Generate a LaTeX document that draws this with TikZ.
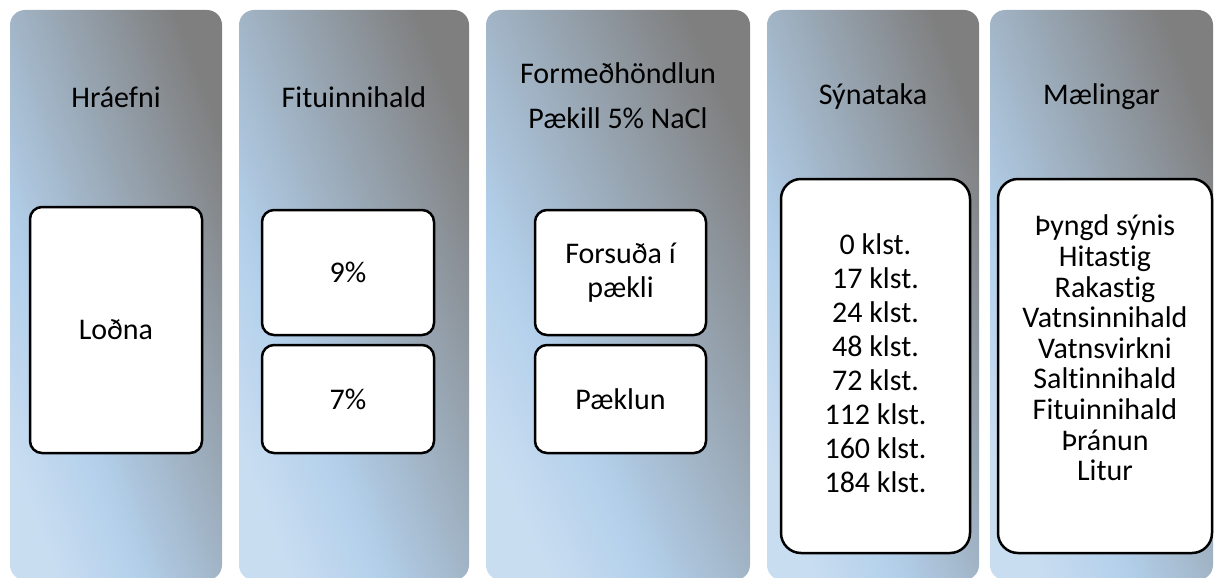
\documentclass[tikz,border=0pt]{standalone}
\usepackage{fontspec}
\setmainfont{Carlito}[Ligatures=NoCommon]
\usetikzlibrary{positioning,calc}

\definecolor{gradA}{RGB}{201,221,241}
\definecolor{gradB}{RGB}{179,208,235}
\definecolor{gradC}{RGB}{127,127,127}
\pgfdeclarehorizontalshading{colgrad}{100bp}{color(0bp)=(gradA); color(25bp)=(gradA); color(37.5bp)=(gradB); color(75bp)=(gradC); color(100bp)=(gradC)}

\begin{document}
\begin{tikzpicture}[x=1pt,y=-1pt,font=\fontsize{30pt}{34pt}\selectfont]
        \tikzstyle{col}=[shade, shading=colgrad, rounded corners=15pt, inner sep=0pt, minimum height=570pt]
        \tikzstyle{box}=[draw, fill=white, line width=2.5pt, rounded corners=12pt, inner sep=0pt, align=center]
        \tikzstyle{head}=[align=center]

        \useasboundingbox (0,0) rectangle (1215,578);

        % columns
        \node[col, shading angle=20.4, minimum width=212pt] (c1) at (116,295) {};
        \node[col, shading angle=22.0, minimum width=230pt] (c2) at (354,295) {};
        \node[col, shading angle=24.8, minimum width=264pt] (c3) at (618,295) {};
        \node[col, shading angle=20.4, minimum width=212pt] (c4) at (873,295) {};
        \node[col, shading angle=21.4, minimum width=223pt] (c5) at (1101.5,295) {};

        % headings
        \node[head] (h1) at (116,97) {Hráefni};
        \node[head] (h2) at (354,97) {Fituinnihald};
        \node[head] (h3) at (618,96) {Formeðhöndlun\\[11pt]Pækill 5\% NaCl};
        \node[head] (h4) at (873,97) {Sýnataka};
        \node[head] (h5) at (1101.5,97) {Mælingar};

        % boxes
        \node[box, minimum width=172pt, minimum height=246pt] (b1) at (116,330) {Loðna};
        \node[box, minimum width=172pt, minimum height=125pt] (b2a) at (348,272.5) {9\%};
        \node[box, minimum width=172pt, minimum height=108pt] (b2b) at (348,399) {7\%};
        \node[box, minimum width=171pt, minimum height=125pt] (b3a) at (620.5,272.5) {Forsuða í\\pækli};
        \node[box, minimum width=171pt, minimum height=108pt] (b3b) at (620.5,399) {Pæklun};
        \node[box, rounded corners=20pt, minimum width=189pt, minimum height=374pt] (b4) at (875.5,366) {};
        \node[head] (m4) at (875.5,363)
            {0 klst.\\17 klst.\\24 klst.\\48 klst.\\72 klst.\\112 klst.\\160 klst.\\184 klst.};
        \node[box, rounded corners=20pt, minimum width=214pt, minimum height=374pt] (b5) at (1105,366) {};
        \node[head, font=\fontsize{30pt}{30.6pt}\selectfont] (m5) at (1105,348)
            {Þyngd sýnis\\Hitastig\\Rakastig\\Vatnsinnihald\\Vatnsvirkni\\Saltinnihald\\Fituinnihald\\Þránun\\Litur};

    \end{tikzpicture}
\end{document}
